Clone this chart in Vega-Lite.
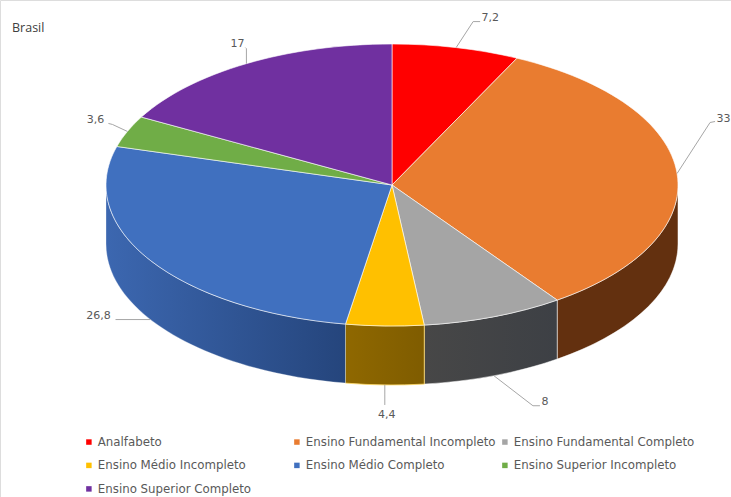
{
  "$schema": "https://vega.github.io/schema/vega-lite/v6.json",
  "width": 731,
  "height": 497,
  "padding": 0,
  "autosize": {"type": "none"},
  "background": "#ffffff",
  "title": {"text": "Brasil", "anchor": "start", "frame": "group", "orient": "top", "offset": -34, "dx": 12, "fontSize": 12.5, "fontWeight": "normal", "font": "Open Sans", "color": "#404040"},
  "data": {"values": [
    {"ordem": 1, "categoria": "Analfabeto", "valor": 7.2},
    {"ordem": 2, "categoria": "Ensino Fundamental Incompleto", "valor": 33},
    {"ordem": 3, "categoria": "Ensino Fundamental Completo", "valor": 8},
    {"ordem": 4, "categoria": "Ensino Médio Incompleto", "valor": 4.4},
    {"ordem": 5, "categoria": "Ensino Médio Completo", "valor": 26.8},
    {"ordem": 6, "categoria": "Ensino Superior Incompleto", "valor": 3.6},
    {"ordem": 7, "categoria": "Ensino Superior Completo", "valor": 17}
  ]},
  "transform": [
    {"window": [{"op": "sum", "field": "valor", "as": "fim"}], "sort": [{"field": "ordem", "order": "ascending"}], "frame": [null, 0]},
    {"calculate": "2 * PI * (datum.fim - datum.valor) / 100", "as": "t0"},
    {"calculate": "2 * PI * datum.fim / 100", "as": "t1"},
    {"calculate": "(datum.t0 + datum.t1) / 2", "as": "tm"},
    {"calculate": "round(28600 * sin(datum.t0)) / 100", "as": "x0"},
    {"calculate": "round(-14100 * cos(datum.t0)) / 100", "as": "y0"},
    {"calculate": "round(28600 * sin(datum.t1)) / 100", "as": "x1"},
    {"calculate": "round(-14100 * cos(datum.t1)) / 100", "as": "y1"},
    {"calculate": "'M0 0L' + datum.x0 + ' ' + datum.y0 + 'A286 141 0 0 1 ' + datum.x1 + ' ' + datum.y1 + 'Z'", "as": "fatia"},
    {"calculate": "max(datum.t0, PI / 2)", "as": "a0"},
    {"calculate": "min(datum.t1, 3 * PI / 2)", "as": "a1"},
    {"calculate": "round(28600 * sin(datum.a0)) / 100", "as": "sx0"},
    {"calculate": "round(-14100 * cos(datum.a0)) / 100", "as": "sy0"},
    {"calculate": "round(28600 * sin(datum.a1)) / 100", "as": "sx1"},
    {"calculate": "round(-14100 * cos(datum.a1)) / 100", "as": "sy1"},
    {"calculate": "'M' + datum.sx0 + ' ' + datum.sy0 + 'A286 141 0 0 1 ' + datum.sx1 + ' ' + datum.sy1 + 'L' + datum.sx1 + ' ' + (datum.sy1 + 59) + 'A286 141 0 0 0 ' + datum.sx0 + ' ' + (datum.sy0 + 59) + 'Z'", "as": "lateral"},
    {"calculate": "round(28600 * sin(datum.tm)) / 100", "as": "bx"},
    {"calculate": "round(-14100 * cos(datum.tm)) / 100 + (datum.tm > PI / 2 && datum.tm < 3 * PI / 2 ? 59 : 0)", "as": "by"},
    {"calculate": "{'Analfabeto': [17, -26, 24, -26, 34, -30], 'Ensino Fundamental Incompleto': [33, -51, 38, -52, 46.5, -55], 'Ensino Fundamental Completo': [39, 30, 46, 30, 51, 26], 'Ensino Médio Incompleto': [0, 10, 0, 20, 2, 30], 'Ensino Médio Completo': [-35, 0, -35, 0, -52, -4], 'Ensino Superior Incompleto': [-15, -7, -19, -8, -32, -11], 'Ensino Superior Completo': [0, -15, -1, -16, -9, -20]}[datum.categoria]", "as": "guia"},
    {"calculate": "'M' + datum.bx + ' ' + datum.by + 'L' + (datum.bx + datum.guia[0]) + ' ' + (datum.by + datum.guia[1]) + 'L' + (datum.bx + datum.guia[2]) + ' ' + (datum.by + datum.guia[3])", "as": "linhaGuia"},
    {"calculate": "datum.bx + datum.guia[4]", "as": "lx"},
    {"calculate": "datum.by + datum.guia[5]", "as": "ly"},
    {"calculate": "replace(toString(datum.valor), '.', ',')", "as": "rotulo"}
  ],
  "layer": [
    {
      "transform": [{"filter": "datum.categoria === 'Ensino Fundamental Incompleto'"}],
      "mark": {"type": "point", "filled": true, "opacity": 1, "size": 4, "fill": "#63300f", "stroke": "#ffffff", "strokeOpacity": 0.5, "strokeWidth": 1},
      "encoding": {
        "x": {"datum": 0, "type": "quantitative", "scale": {"domain": [-392, 339], "nice": false, "zero": false}, "axis": null},
        "y": {"datum": 0, "type": "quantitative", "scale": {"domain": [-185, 312], "nice": false, "zero": false, "reverse": true}, "axis": null},
        "shape": {"field": "lateral", "type": "nominal", "scale": null, "legend": null}
      }
    },
    {
      "transform": [{"filter": "datum.categoria === 'Ensino Fundamental Completo'"}],
      "mark": {"type": "point", "filled": true, "opacity": 1, "size": 4, "stroke": "#ffffff", "strokeOpacity": 0.5, "strokeWidth": 1,
        "fill": {"gradient": "linear", "x1": 0, "x2": 1, "y1": 0, "y2": 0, "stops": [{"offset": 0, "color": "#474747"}, {"offset": 1, "color": "#3d4045"}]}},
      "encoding": {
        "x": {"datum": 0, "type": "quantitative", "scale": {"domain": [-392, 339], "nice": false, "zero": false}, "axis": null},
        "y": {"datum": 0, "type": "quantitative", "scale": {"domain": [-185, 312], "nice": false, "zero": false, "reverse": true}, "axis": null},
        "shape": {"field": "lateral", "type": "nominal", "scale": null, "legend": null}
      }
    },
    {
      "transform": [{"filter": "datum.categoria === 'Ensino Médio Incompleto'"}],
      "mark": {"type": "point", "filled": true, "opacity": 1, "size": 4, "stroke": "#ffd966", "strokeOpacity": 0.8, "strokeWidth": 1,
        "fill": {"gradient": "linear", "x1": 0, "x2": 1, "y1": 0, "y2": 0, "stops": [{"offset": 0, "color": "#8f6800"}, {"offset": 1, "color": "#7f5c00"}]}},
      "encoding": {
        "x": {"datum": 0, "type": "quantitative", "scale": {"domain": [-392, 339], "nice": false, "zero": false}, "axis": null},
        "y": {"datum": 0, "type": "quantitative", "scale": {"domain": [-185, 312], "nice": false, "zero": false, "reverse": true}, "axis": null},
        "shape": {"field": "lateral", "type": "nominal", "scale": null, "legend": null}
      }
    },
    {
      "transform": [{"filter": "datum.categoria === 'Ensino Médio Completo'"}],
      "mark": {"type": "point", "filled": true, "opacity": 1, "size": 4, "stroke": "#ffffff", "strokeOpacity": 0.3, "strokeWidth": 1,
        "fill": {"gradient": "linear", "x1": 0, "x2": 1, "y1": 0, "y2": 0, "stops": [{"offset": 0, "color": "#3c67b0"}, {"offset": 1, "color": "#25457c"}]}},
      "encoding": {
        "x": {"datum": 0, "type": "quantitative", "scale": {"domain": [-392, 339], "nice": false, "zero": false}, "axis": null},
        "y": {"datum": 0, "type": "quantitative", "scale": {"domain": [-185, 312], "nice": false, "zero": false, "reverse": true}, "axis": null},
        "shape": {"field": "lateral", "type": "nominal", "scale": null, "legend": null}
      }
    },
    {
      "mark": {"type": "point", "filled": true, "opacity": 1, "size": 4, "stroke": "#ffffff", "strokeOpacity": 0.6, "strokeWidth": 1},
      "encoding": {
        "x": {"datum": 0, "type": "quantitative", "scale": {"domain": [-392, 339], "nice": false, "zero": false}, "axis": null},
        "y": {"datum": 0, "type": "quantitative", "scale": {"domain": [-185, 312], "nice": false, "zero": false, "reverse": true}, "axis": null},
        "shape": {"field": "fatia", "type": "nominal", "scale": null, "legend": null},
        "color": {
          "field": "categoria",
          "type": "nominal",
          "scale": {
            "domain": ["Analfabeto", "Ensino Fundamental Incompleto", "Ensino Fundamental Completo", "Ensino Médio Incompleto", "Ensino Médio Completo", "Ensino Superior Incompleto", "Ensino Superior Completo"],
            "range": ["#ff0000", "#e97c30", "#a5a5a5", "#ffc000", "#4070bf", "#70ad47", "#7030a0"]
          },
          "legend": {
            "title": null,
            "orient": "none",
            "direction": "horizontal",
            "legendX": 83,
            "legendY": 436,
            "columns": 3,
            "gridAlign": "all",
            "columnPadding": 3,
            "rowPadding": 10.5,
            "symbolType": "square",
            "symbolSize": 30,
            "symbolStrokeWidth": 0,
            "symbolOpacity": 1,
            "labelFont": "DejaVu Sans",
            "labelFontSize": 11.8,
            "labelColor": "#595959",
            "labelLimit": 220,
            "labelOffset": 3
          }
        }
      }
    },
    {
      "mark": {"type": "point", "filled": false, "opacity": 1, "size": 4, "stroke": "#a6a6a6", "strokeWidth": 1},
      "encoding": {
        "x": {"datum": 0, "type": "quantitative", "scale": {"domain": [-392, 339], "nice": false, "zero": false}, "axis": null},
        "y": {"datum": 0, "type": "quantitative", "scale": {"domain": [-185, 312], "nice": false, "zero": false, "reverse": true}, "axis": null},
        "shape": {"field": "linhaGuia", "type": "nominal", "scale": null, "legend": null}
      }
    },
    {
      "mark": {"type": "text", "font": "DejaVu Sans", "fontSize": 11, "color": "#595959", "align": "center", "baseline": "middle"},
      "encoding": {
        "x": {"field": "lx", "type": "quantitative", "scale": {"domain": [-392, 339], "nice": false, "zero": false}, "axis": null},
        "y": {"field": "ly", "type": "quantitative", "scale": {"domain": [-185, 312], "nice": false, "zero": false, "reverse": true}, "axis": null},
        "text": {"field": "rotulo", "type": "nominal"}
      }
    }
  ]
}
